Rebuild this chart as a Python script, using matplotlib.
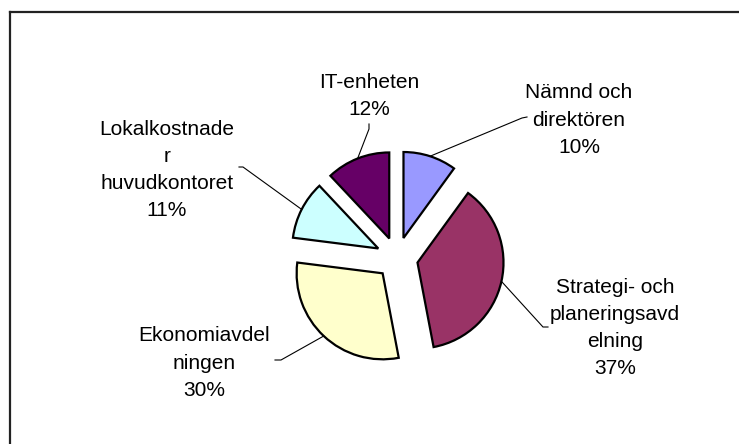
import numpy as np
import matplotlib
matplotlib.use("Agg")
import matplotlib.pyplot as plt

# data
labels = ["Nämnd och\ndirektören", "Strategi- och\nplaneringsavd\nelning",
          "Ekonomiavdel\nningen", "Lokalkostnade\nr\nhuvudkontoret", "IT-enheten"]
values = [10, 37, 30, 11, 12]
colors = ["#9999FF", "#993366", "#FFFFCC", "#CCFFFF", "#660066"]

W, H = 739, 444

# label centres and leader elbows in pixel coordinates (x, y from top)
label_pos = [(579, 120), (615, 328), (204, 363), (167, 170), (369, 96)]
elbows = [(522, 118), (543, 327), (281, 360), (243, 167), (369, 129)]
hooks = [(527, 117), (548, 327), (275, 360), (239, 167), (369, 124)]

plt.rcParams["font.family"] = ["Liberation Sans", "DejaVu Sans"]

fig = plt.figure(figsize=(W / 100, H / 100), dpi=100)
ax = fig.add_axes([0, 0, 1, 1])

cx, cy, r = 397, 258, 86
gap = 21  # explode distance in pixels
wedges, _ = ax.pie(values, colors=colors, startangle=90, counterclock=False,
                   explode=[gap] * len(values), center=(cx, H - cy), radius=r,
                   frame=True,
                   wedgeprops=dict(edgecolor="black", linewidth=1.6))

ax.set_xlim(0, W)
ax.set_ylim(0, H)
ax.set_aspect("auto")
ax.axis("off")

for w, lab, v, (lx, ly), (ex, ey), (hx, hy) in zip(wedges, labels, values,
                                                     label_pos, elbows, hooks):
    # leader line starts at the middle of the wedge's arc
    mid = np.deg2rad((w.theta1 + w.theta2) / 2)
    px = w.center[0] + r * np.cos(mid)
    py = w.center[1] + r * np.sin(mid)
    ax.plot([px, ex, hx], [py, H - ey, H - hy], color="black", lw=0.8,
            solid_joinstyle="miter")
    ax.text(lx, H - ly, f"{lab}\n{v}%", ha="center", va="center",
            fontsize=15, linespacing=1.55, color="black")

# chart frame (only top and left edges visible)
ax.plot([10, W + 5], [H - 12, H - 12], color="#222222", lw=1.6, clip_on=False)
ax.plot([10, 10], [H - 12, -5], color="#222222", lw=1.6, clip_on=False)

fig.savefig("out.png", dpi=100)
